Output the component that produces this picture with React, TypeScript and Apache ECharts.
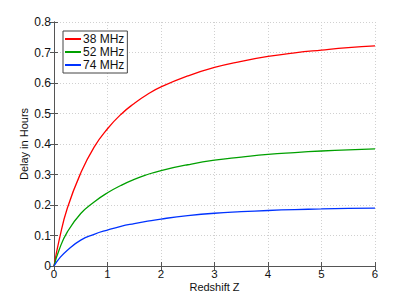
import React, { useEffect, useRef } from "react";
import * as echarts from "echarts";

const redshift = [0, 0.1, 0.25, 0.5, 0.75, 1, 1.25, 1.5, 1.75, 2, 2.5, 3, 3.5, 4, 4.5, 5, 5.5, 6];
const delay38 = [0, 0.088, 0.19, 0.305, 0.39, 0.45, 0.497, 0.533, 0.563, 0.587, 0.623, 0.651, 0.671, 0.687, 0.699, 0.708, 0.716, 0.722];
const delay52 = [0, 0.055, 0.112, 0.172, 0.21, 0.24, 0.264, 0.284, 0.3, 0.313, 0.332, 0.347, 0.357, 0.366, 0.372, 0.377, 0.381, 0.384];
const delay74 = [0, 0.025, 0.052, 0.085, 0.104, 0.118, 0.13, 0.139, 0.147, 0.154, 0.165, 0.173, 0.178, 0.182, 0.185, 0.187, 0.189, 0.19];
const seriesNames = ["38 MHz", "52 MHz", "74 MHz"];
const seriesColors = ["#ff0000", "#00a000", "#0033ff"];

const FONT = "Liberation Sans, Arial, sans-serif";

export default function App() {
  const ref = useRef<HTMLDivElement>(null);
  useEffect(() => {
    if (!ref.current) return;
    const chart = echarts.init(ref.current, undefined, { renderer: "svg" });
    const datasets = [delay38, delay52, delay74];
    const axisLine = { show: true, lineStyle: { color: "#555", width: 1 } };
    const tickIn = { show: true, inside: true, length: 4, lineStyle: { color: "#555" } };
    const splitLine = { show: true, lineStyle: { color: "#d0d0d0", type: [1, 2] as any, width: 1 } };
    chart.setOption({
      animation: false,
      backgroundColor: "#fff",
      textStyle: { fontFamily: FONT },
      grid: { left: 54, right: 40, top: 22, bottom: 34, show: false },
      legend: {
        show: true,
        orient: "vertical",
        left: 63,
        top: 31,
        data: seriesNames,
        itemWidth: 16,
        itemHeight: 2,
        icon: "rect",
        itemGap: 1,
        padding: [2, 3, 2, 2],
        borderColor: "#444",
        borderWidth: 1,
        backgroundColor: "#fff",
        textStyle: { fontSize: 12, color: "#111", fontFamily: FONT, padding: [0, 0, 0, -3] },
      },
      xAxis: [
        {
          type: "value",
          min: 0,
          max: 6,
          interval: 1,
          name: "Redshift Z",
          nameLocation: "middle",
          nameGap: 15,
          nameMoveOverlap: false,
          nameTextStyle: { fontSize: 11, color: "#111", fontFamily: FONT },
          axisLine,
          axisTick: tickIn,
          axisLabel: { fontSize: 11.5, color: "#111", margin: 2, fontFamily: FONT },
          splitLine,
        },
        {
          type: "value",
          position: "top",
          min: 0,
          max: 6,
          interval: 1,
          axisLine,
          axisTick: tickIn,
          axisLabel: { show: false },
          splitLine: { show: false },
        },
      ],
      yAxis: [
        {
          type: "value",
          min: 0,
          max: 0.8,
          interval: 0.1,
          name: "Delay in Hours",
          nameLocation: "middle",
          nameGap: 25,
          nameMoveOverlap: false,
          nameTextStyle: { fontSize: 11, color: "#111", fontFamily: FONT },
          axisLine,
          axisTick: tickIn,
          axisLabel: {
            fontSize: 12,
            color: "#111",
            margin: 3,
            fontFamily: FONT,
            formatter: (v: number) => (v === 0 ? "0" : String(Math.round(v * 10) / 10)),
          },
          splitLine,
        },
        {
          type: "value",
          position: "right",
          min: 0,
          max: 0.8,
          interval: 0.1,
          axisLine,
          axisTick: tickIn,
          axisLabel: { show: false },
          splitLine: { show: false },
        },
      ],
      series: datasets.map((d, i) => ({
        name: seriesNames[i],
        type: "line",
        smooth: 0.5,
        symbol: "none",
        showSymbol: false,
        color: seriesColors[i],
        lineStyle: { width: 1.3, color: seriesColors[i] },
        data: redshift.map((x, j) => [x, d[j]]),
      })),
    });
    return () => chart.dispose();
  }, []);
  return <div ref={ref} style={{ width: 415, height: 300, position: "absolute", left: 0, top: 0 }} />;
}
